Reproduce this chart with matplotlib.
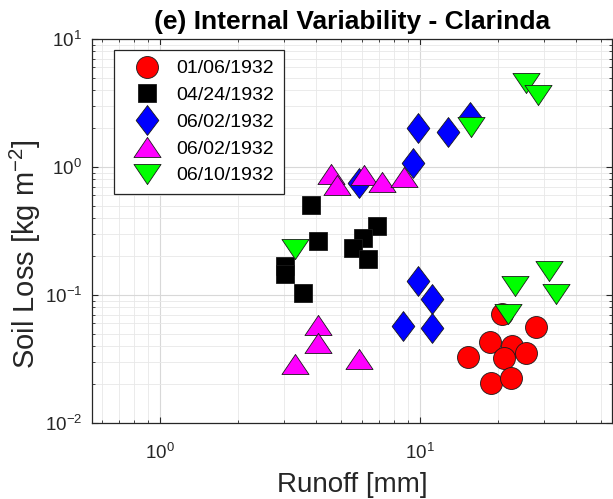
#!/usr/bin/env python3

# Soil loss vs runoff, internal variability at Clarinda (log-log scatter)

import matplotlib
matplotlib.use("Agg")
import matplotlib.pyplot as plt
from matplotlib.ticker import LogLocator, NullFormatter

plt.rcParams['font.family'] = ['Liberation Sans', 'DejaVu Sans']
plt.rcParams['mathtext.fontset'] = 'custom'
plt.rcParams['mathtext.rm'] = 'Liberation Sans'
plt.rcParams['mathtext.default'] = 'regular'

# event labels (two different runs share 06/02/1932)
labels = ['01/06/1932', '04/24/1932', '06/02/1932', '06/02/1932', '06/10/1932']

# runoff [mm] and soil loss [kg m-2]
runoff_0106 = [20.8, 28.1, 18.7, 22.7, 25.7, 21.2, 15.4, 18.9, 22.5]
loss_0106   = [0.0707, 0.056, 0.0428, 0.0398, 0.0352, 0.0321, 0.0327, 0.0205, 0.0225]

runoff_0424 = [3.82, 6.84, 6.04, 5.53, 4.06, 6.32, 3.03, 3.03, 3.56]
loss_0424   = [0.508, 0.343, 0.281, 0.235, 0.262, 0.190, 0.170, 0.145, 0.103]

runoff_0602a = [9.91, 12.9, 15.7, 9.40, 5.83, 9.91, 11.2, 8.61, 11.2]
loss_0602a   = [2.02, 1.88, 2.46, 1.08, 0.755, 0.128, 0.0926, 0.0571, 0.055]

runoff_0602b = [4.56, 4.80, 6.10, 7.15, 8.68, 4.06, 4.06, 3.32, 5.83]
loss_0602b   = [0.887, 0.728, 0.871, 0.768, 0.840, 0.0581, 0.0421, 0.0289, 0.0316]

runoff_0610 = [25.7, 28.6, 15.8, 3.32, 23.3, 31.5, 33.5, 21.9]
loss_0610   = [4.54, 3.66, 2.06, 0.227, 0.117, 0.153, 0.101, 0.0707]

# MATLAB-like marker shapes: wide triangles and a tall diamond
tri_up = [(0, 0.74), (-1, -0.74), (1, -0.74), (0, 0.74)]
tri_down = [(0, -0.74), (-1, 0.74), (1, 0.74), (0, -0.74)]
diamond = [(0, 1), (0.76, 0), (0, -1), (-0.76, 0), (0, 1)]

series = [
    (runoff_0106, loss_0106, 'o', '#ff0000', 15.8),
    (runoff_0424, loss_0424, 's', '#000000', 13.0),
    (runoff_0602a, loss_0602a, diamond, '#0000ff', 21.5),
    (runoff_0602b, loss_0602b, tri_up, '#ff00ff', 19.5),
    (runoff_0610, loss_0610, tri_down, '#00ff00', 19.5),
]

fig = plt.figure(figsize=(6.13, 4.99), dpi=100)
ax = fig.add_axes([92 / 613, 1 - 423 / 499, 520 / 613, 384 / 499])

for (x, y, m, c, ms), lab in zip(series, labels):
    ax.plot(x, y, linestyle='none', marker=m, markersize=ms,
            markerfacecolor=c, markeredgecolor='#1a1a1a', markeredgewidth=0.6,
            label=lab)

ax.set_xscale('log')
ax.set_yscale('log')
ax.set_xlim(0.55, 55)
ax.set_ylim(0.01, 10)

ax.xaxis.set_major_locator(LogLocator(base=10))
ax.yaxis.set_major_locator(LogLocator(base=10))
ax.xaxis.set_minor_locator(LogLocator(base=10, subs=range(2, 10)))
ax.yaxis.set_minor_locator(LogLocator(base=10, subs=range(2, 10)))
ax.xaxis.set_minor_formatter(NullFormatter())
ax.yaxis.set_minor_formatter(NullFormatter())

ax.grid(True, which='major', color='#d8d8d8', linewidth=0.8)
ax.grid(True, which='minor', color='#e8e8e8', linewidth=0.6)
ax.set_axisbelow(True)

for sp in ax.spines.values():
    sp.set_color('#262626')
    sp.set_linewidth(0.9)

ax.tick_params(which='both', direction='in', top=True, right=True,
               colors='#262626', labelcolor='#262626')
ax.tick_params(which='major', length=4, width=0.8, labelsize=13.5)
ax.tick_params(which='minor', length=2.5, width=0.6)
ax.tick_params(axis='x', which='major', pad=14)
ax.tick_params(axis='y', which='major', pad=7)

ax.set_xlabel('Runoff [mm]', fontsize=20, color='#262626', labelpad=7)
ax.set_ylabel('Soil Loss [kg m$^{-2}$]', fontsize=21, color='#262626')
ax.yaxis.set_label_coords(-0.095, 0.44)
ax.set_title('(e) Internal Variability - Clarinda', fontsize=19, fontweight='bold',
             pad=7)

leg = ax.legend(loc='upper left', bbox_to_anchor=(0.042, 0.971), borderaxespad=0,
                fontsize=14, numpoints=1, handlelength=2.4, handletextpad=0.3,
                borderpad=0.5, labelspacing=0.47, fancybox=False, framealpha=1,
                edgecolor='#262626')
leg.get_frame().set_linewidth(0.9)

fig.savefig('out.png', dpi=100)
